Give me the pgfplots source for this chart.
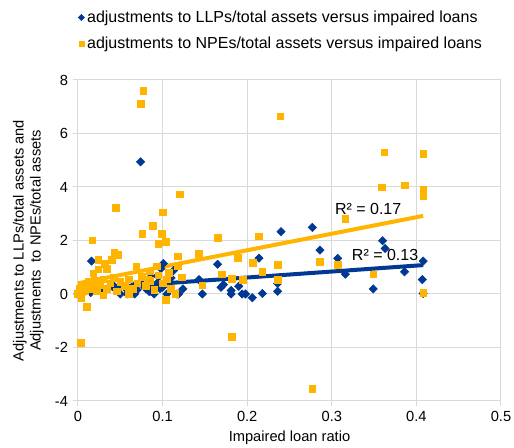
\documentclass[border=0pt]{standalone}
\usepackage{pgfplots}
\pgfplotsset{compat=1.18}
\usepackage{fontspec}
\setmainfont{Liberation Sans}
\definecolor{llpblue}{RGB}{0,56,147}
\definecolor{npegold}{RGB}{255,180,0}
\definecolor{gridgrey}{RGB}{217,217,217}

\begin{document}
\begin{tikzpicture}
\begin{axis}[
  scale only axis, width=317.25pt, height=240.75pt,
  xmin=0, xmax=0.5, ymin=-4, ymax=8,
  xtick={0,0.1,0.2,0.3,0.4,0.5}, ytick={-4,-2,0,2,4,6,8},
  grid=major, major grid style={gridgrey, line width=0.75pt},
  axis line style={gridgrey, line width=0.75pt},
  tick style={gridgrey, line width=0.75pt},
  tick align=outside, tick pos=left, major tick length=4pt,
  /pgf/number format/assume math mode=true,
  ticklabel style={font=\fontsize{11}{13}\selectfont},
  xlabel={Impaired loan ratio},
  ylabel={Adjustments to LLPs/total assets and\\Adjustments~ to NPEs/total assets},
  label style={font=\fontsize{11}{12.75}\selectfont, align=center},
  ylabel style={yshift=1.5pt},
  legend style={draw=none, fill=none, at={(axis description cs:0.0,1.225)}, anchor=north west,
    font=\fontsize{12}{14}\selectfont, row sep=5.5pt, inner sep=0pt, legend cell align=left},
  legend image code/.code={\draw[#1, /tikz/every mark/.append style={scale=0.75}] plot coordinates {(0pt,0pt)};},
  clip=false,
]
% LLP adjustments
\addplot[llpblue, only marks, mark=square*, mark size=2.2pt, mark options={rotate=45, draw=none, fill=llpblue}] coordinates {
(0.074,4.94) (0.016,1.23) (0.101,1.14) (0.113,0.88) (0.124,0.19) (0.117,0.0)
(0.165,1.11) (0.169,0.25) (0.147,0.0) (0.181,0.13) (0.181,0.0) (0.190,0.29)
(0.194,0.0) (0.206,-0.14) (0.143,0.54) (0.214,1.34) (0.240,2.33) (0.277,2.49)
(0.286,1.64) (0.307,1.33) (0.360,1.99) (0.363,1.70) (0.408,1.23) (0.386,0.83)
(0.316,0.74) (0.236,0.39) (0.236,0.10) (0.218,0.02) (0.349,0.19) (0.407,0.54)
(0.408,0.02) (0.0,0.0) (0.042,0.32) (0.058,0.0) (0.067,0.0) (0.077,0.32)
(0.084,0.1) (0.087,0.67) (0.105,0.0) (0.097,0.2) (0.119,0.0) (0.144,0.5)
(0.003,0.05) (0.005,0.15) (0.008,0.1) (0.012,0.2) (0.015,0.05) (0.02,0.15)
(0.025,0.25) (0.03,0.1) (0.035,0.2) (0.04,0.3) (0.045,0.15) (0.05,0.0)
(0.055,0.25) (0.06,0.1) (0.065,0.3) (0.07,0.15) (0.075,0.4) (0.08,0.2)
(0.085,0.1) (0.09,0.3) (0.095,0.45) (0.1,0.25) (0.11,0.6) (0.09,0.0)
(0.098,0.95) (0.198,0.0) (0.172,0.35)
};
\addlegendentry{adjustments to LLPs/total assets versus impaired loans}
% NPE adjustments
\addplot[npegold, only marks, mark=square*, mark size=2.5pt, mark options={draw=none, fill=npegold}] coordinates {
(0.077,7.6) (0.074,7.12) (0.12,3.73) (0.045,3.22) (0.100,3.06) (0.088,2.56)
(0.076,2.24) (0.099,2.24) (0.017,2.01) (0.095,1.88) (0.104,1.94) (0.165,2.11)
(0.043,1.56) (0.047,1.47) (0.024,1.29) (0.040,1.29) (0.032,1.14) (0.024,0.92)
(0.034,0.94) (0.018,0.77) (0.069,1.04) (0.118,1.41) (0.118,1.04) (0.143,1.50)
(0.189,1.35) (0.206,1.17) (0.170,0.74) (0.182,0.57) (0.195,0.54) (0.083,0.54)
(0.093,1.04) (0.107,0.79) (0.123,0.62) (0.147,0.33) (0.104,-0.21) (0.010,-0.48)
(0.003,-1.83) (0.182,-1.60) (0.277,-3.54) (0.239,6.64) (0.362,5.30) (0.408,5.23)
(0.359,3.99) (0.386,4.07) (0.408,3.91) (0.408,3.66) (0.316,2.81) (0.214,2.16)
(0.207,1.17) (0.218,0.82) (0.236,1.09) (0.236,0.52) (0.286,1.21) (0.307,1.09)
(0.349,0.74) (0.408,0.04) (0.004,-0.14)
(0.0,0.0) (0.002,0.2) (0.005,0.35) (0.008,0.1) (0.01,0.3) (0.013,0.45)
(0.016,0.2) (0.02,0.5) (0.022,0.1) (0.026,0.35) (0.03,0.55) (0.034,0.2)
(0.038,0.4) (0.042,0.6) (0.046,0.1) (0.05,0.45) (0.055,0.3) (0.06,0.55)
(0.065,0.2) (0.07,0.4) (0.075,0.65) (0.08,0.3) (0.085,0.5) (0.09,0.15)
(0.095,0.7) (0.1,0.4) (0.105,0.55) (0.11,0.2) (0.115,0.0) (0.085,0.85)
(0.06,0.0) (0.03,-0.05)
};
\addlegendentry{adjustments to NPEs/total assets versus impaired loans}
% linear trend lines
\addplot[llpblue, line width=3pt, forget plot] coordinates {(0,0.17) (0.408,1.08)};
\addplot[npegold, line width=3pt, forget plot] coordinates {(0,0.40) (0.408,2.92)};
\node[font=\fontsize{12}{14}\selectfont] at (axis cs:0.343,3.19) {R² = 0.17};
\node[font=\fontsize{12}{14}\selectfont] at (axis cs:0.363,1.44) {R² = 0.13};
\coordinate (bl) at (rel axis cs:0,0);
\coordinate (tr) at (rel axis cs:1,1);
\end{axis}
\pgfresetboundingbox
\path (bl) ++(-58.5pt,-35.25pt) coordinate (A);
\path (tr) ++(9.75pt,60pt) coordinate (B);
\path[use as bounding box] (A) rectangle (B);
\end{tikzpicture}
\end{document}
